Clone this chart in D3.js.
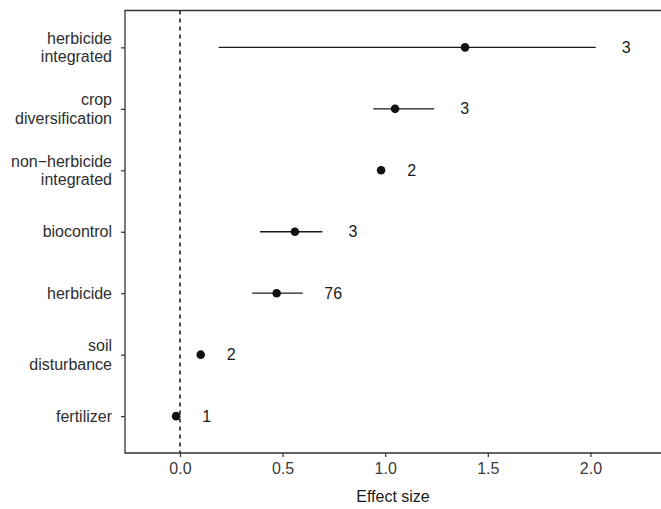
<!DOCTYPE html>
<html>
<head>
<meta charset="utf-8">
<script src="https://cdn.jsdelivr.net/npm/d3@7"></script>
<style>
  body { margin: 0; background: #fff; }
  text { font-family: "Liberation Sans", Arial, sans-serif; }
</style>
</head>
<body>
<div id="chart"></div>
<script>
// categories, top to bottom
const categories = [
  ["herbicide", "integrated"],
  ["crop", "diversification"],
  ["non\u2212herbicide", "integrated"],
  ["biocontrol"],
  ["herbicide"],
  ["soil", "disturbance"],
  ["fertilizer"]
];
const means = [1.389, 1.048, 0.980, 0.560, 0.471, 0.101, -0.019];
const lower = [0.189, 0.942, 0.980, 0.390, 0.352, 0.101, -0.019];
const upper = [2.026, 1.239, 0.980, 0.694, 0.598, 0.101, -0.019];
const counts = [3, 3, 2, 3, 76, 2, 1];
const xTicks = [0.0, 0.5, 1.0, 1.5, 2.0];

const width = 661, height = 509;
const margin = { top: 10.5, right: 0, bottom: 56, left: 125 };
const innerW = width - margin.left - margin.right;
const innerH = height - margin.top - margin.bottom;
const fs = 16;

const svg = d3.select('#chart').append('svg')
  .attr('width', width).attr('height', height);

const chart = svg.append('g')
  .attr('transform', `translate(${margin.left},${margin.top})`);

const keys = categories.map((c, i) => i);
const scaleY = d3.scalePoint(keys, [0, innerH]).padding(0.6);
const scaleX = d3.scaleLinear([-0.268, 2.344], [0, innerW]);

// reference line at zero
chart.append('line')
  .attr('x1', scaleX(0)).attr('x2', scaleX(0))
  .attr('y1', 0).attr('y2', innerH)
  .attr('stroke', '#000').attr('stroke-width', 1.4)
  .attr('stroke-dasharray', '4,4');

// intervals
chart.selectAll('line.ci')
  .data(keys)
  .join('line')
  .classed('ci', true)
  .attr('x1', i => scaleX(lower[i])).attr('x2', i => scaleX(upper[i]))
  .attr('y1', i => scaleY(i)).attr('y2', i => scaleY(i))
  .attr('stroke', '#1a1a1a').attr('stroke-width', 1.3);

// points
chart.selectAll('circle.pt')
  .data(keys)
  .join('circle')
  .classed('pt', true)
  .attr('cx', i => scaleX(means[i]))
  .attr('cy', i => scaleY(i))
  .attr('r', 4.3)
  .attr('fill', '#111');

// sample counts
chart.selectAll('text.n')
  .data(keys)
  .join('text')
  .classed('n', true)
  .attr('x', i => scaleX(upper[i]) + 30.5)
  .attr('y', i => scaleY(i))
  .attr('dy', '0.35em')
  .attr('text-anchor', 'middle')
  .attr('font-size', fs)
  .attr('fill', '#1a1a1a')
  .text(i => counts[i]);

// frame: left, top, bottom
chart.append('path')
  .attr('d', `M${innerW},0H0V${innerH}H${innerW}`)
  .attr('fill', 'none')
  .attr('stroke', '#333').attr('stroke-width', 1.3);

// x axis
const axisX = chart.append('g')
  .attr('transform', `translate(0,${innerH})`)
  .call(d3.axisBottom(scaleX).tickValues(xTicks).tickFormat(d3.format('.1f')).tickSize(4).tickPadding(6));
axisX.select('.domain').remove();
axisX.selectAll('line').attr('stroke', '#333').attr('stroke-width', 1.2);
axisX.selectAll('text')
  .attr('font-size', fs)
  .attr('font-family', '"Liberation Sans", Arial, sans-serif')
  .attr('fill', '#3a3a3a');

// y axis
const axisY = chart.append('g')
  .call(d3.axisLeft(scaleY).tickSize(4).tickFormat(''));
axisY.select('.domain').remove();
axisY.selectAll('line').attr('stroke', '#333').attr('stroke-width', 1.2);

const lineH = 18.5;
chart.selectAll('text.cat')
  .data(keys)
  .join('text')
  .classed('cat', true)
  .attr('text-anchor', 'end')
  .attr('font-size', fs)
  .attr('fill', '#2e2e2e')
  .attr('transform', i => `translate(-13,${scaleY(i)})`)
  .each(function (i) {
    const lines = categories[i];
    const off = -(lines.length - 1) * lineH / 2;
    d3.select(this).selectAll('tspan')
      .data(lines)
      .join('tspan')
      .attr('x', 0)
      .attr('y', (d, j) => off + j * lineH)
      .attr('dy', '0.35em')
      .text(d => d);
  });

// axis title
svg.append('text')
  .attr('x', margin.left + innerW / 2)
  .attr('y', 502)
  .attr('text-anchor', 'middle')
  .attr('font-size', fs)
  .attr('fill', '#1a1a1a')
  .text('Effect size');
</script>
</body>
</html>
